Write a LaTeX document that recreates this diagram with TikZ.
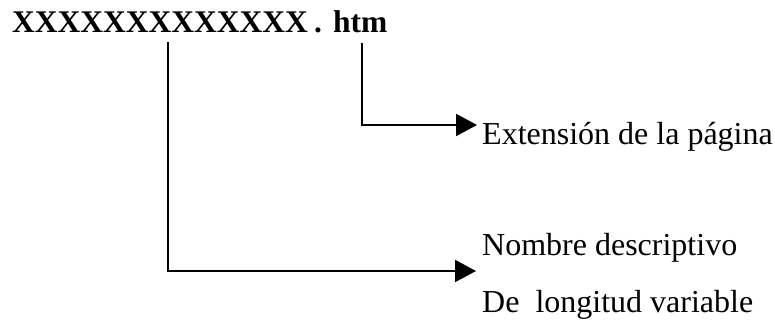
\documentclass[tikz,border=0pt]{standalone}
\usepackage{fontspec}
\setmainfont{Liberation Serif}
\usepackage{tikz}
\usetikzlibrary{arrows.meta}

\begin{document}
\begin{tikzpicture}[x=1pt, y=-1pt,
        titulo/.style={font=\fontsize{31.5}{36}\selectfont\bfseries, inner xsep=0pt, inner ysep=9pt, anchor=base west},
        etiqueta/.style={font=\fontsize{32}{38}\selectfont, inner sep=0pt, anchor=base west},
        flecha/.style={line width=2pt, -{Triangle[length=21pt, width=22pt]}}]
            \useasboundingbox (0,0) rectangle (775,320);

            % File name
            \node[titulo] (xs) at (12,33) {XXXXXXXXXXXXX};
            \node[titulo] (punto) at (314,33) {.};
            \node[titulo] (htm) at (333,33) {htm};

            % Labels
            \node[etiqueta] (extension) at (482,145) {Extensión de la página};
            \node[etiqueta] (desc) at (482,255) {Nombre descriptivo};
            \node[etiqueta] (longitud) at (482,312) {De\ \ longitud variable};

            % Arrow ends
            \coordinate (p1) at (477,125);
            \coordinate (p2) at (476,271);

            % Draw arrows
            \draw[flecha] ([xshift=2pt]htm.south) |- (p1);
            \draw[flecha] ([xshift=8pt]xs.south) |- (p2);
        \end{tikzpicture}
\end{document}
